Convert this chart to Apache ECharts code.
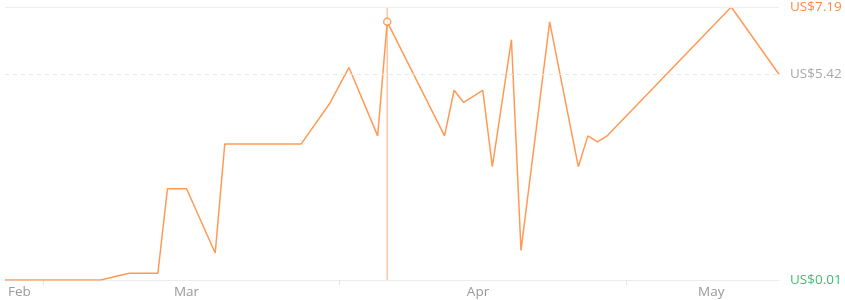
<!DOCTYPE html>
<html><head><meta charset="utf-8">
<script src="https://cdn.jsdelivr.net/npm/echarts@6/dist/echarts.min.js"></script>
<style>html,body{margin:0;padding:0;background:#fff}#c{width:845px;height:300px}</style>
</head><body><div id="c"></div>
<script>
const dates = ['2023-02-25','2023-03-07','2023-03-10','2023-03-13','2023-03-14','2023-03-16','2023-03-19','2023-03-20','2023-03-28','2023-03-31','2023-04-02','2023-04-05','2023-04-06','2023-04-12','2023-04-13','2023-04-14','2023-04-16','2023-04-17','2023-04-19','2023-04-20','2023-04-23','2023-04-26','2023-04-27','2023-04-28','2023-04-29','2023-05-12','2023-05-17'];
const prices = [0.01,0.01,0.19,0.19,2.41,2.41,0.72,3.59,3.59,4.66,5.60,3.80,6.80,3.80,5.00,4.68,5.00,2.99,6.33,0.79,6.80,2.99,3.80,3.64,3.80,7.19,5.42];
const monthTicks = ['2023-03-01','2023-04-01','2023-05-01'];
const monthLabels = ['Feb','Mar','Apr','May'];
const monthLabelAt = ['2023-02-26T12:00','2023-03-16T00:00','2023-04-15T12:00','2023-05-09T22:00'];
const hoverDate = '2023-04-06';

function t(s){ if(s.indexOf('T')>0) return new Date(s).getTime(); const p=s.split('-').map(Number); return new Date(p[0],p[1]-1,p[2]).getTime(); }

const minV = Math.min(...prices), maxV = Math.max(...prices), lastV = prices[prices.length-1];
const hoverIdx = dates.indexOf(hoverDate);
const ORANGE = '#ff9a55';
const labelTs = monthLabelAt.map(t);
const FONT = '"Open Sans", sans-serif';

const chart = echarts.init(document.getElementById('c'), null, {renderer:'canvas'});
chart.setOption({
  animation:false,
  grid:{left:5,right:66,top:5,bottom:20,containLabel:false},
  xAxis:{
    type:'value',
    min:t(dates[0]), max:t(dates[dates.length-1]),
    axisLine:{show:true,lineStyle:{color:'#ececec',width:1}},
    axisTick:{show:true,customValues:monthTicks.map(t),length:5,lineStyle:{color:'#e4e4e4'}},
    splitLine:{show:false},
    axisLabel:{
      customValues:labelTs,
      formatter:function(v){ const i=labelTs.indexOf(v); return i>=0?monthLabels[i]:''; },
      color:'#999999', fontSize:13.5, fontFamily:FONT, margin:5, hideOverlap:false
    }
  },
  yAxis:{
    type:'value', position:'right', min:minV, max:maxV,
    axisLine:{show:false}, axisTick:{show:false}, splitLine:{show:false},
    axisLabel:{
      customValues:[minV,lastV,maxV],
      margin:11,
      fontSize:13.5, fontFamily:FONT,
      formatter:function(v){
        const s='US$'+v.toFixed(2);
        if(v===maxV) return '{mx|'+s+'}';
        if(v===minV) return '{mn|'+s+'}';
        return '{cu|'+s+'}';
      },
      rich:{
        mx:{color:'#ff8a3d',fontSize:13.5,fontFamily:FONT},
        mn:{color:'#3dbd72',fontSize:13.5,fontFamily:FONT},
        cu:{color:'#a8a8a8',fontSize:13.5,fontFamily:FONT}
      }
    }
  },
  series:[
    {
      type:'line',
      data:[[t(hoverDate),minV],[t(hoverDate),maxV]],
      showSymbol:false, symbol:'none', silent:true,
      lineStyle:{color:'#ffc7a0',width:1.5},
      z:2
    },
    {
      type:'line',
      data:dates.map((d,i)=>[t(d),prices[i]]),
      showSymbol:false, symbol:'none',
      lineStyle:{color:ORANGE,width:1.5},
      z:3,
      markLine:{
        silent:true, symbol:'none', label:{show:false},
        emphasis:{disabled:true},
        data:[
          {yAxis:maxV, lineStyle:{color:'#eeeeee',type:'solid',width:1}},
          {yAxis:lastV, lineStyle:{color:'#e8e8e8',type:[4,4],width:1}}
        ]
      }
    },
    {
      type:'scatter',
      data:[[t(dates[hoverIdx]),prices[hoverIdx]]],
      symbol:'circle', symbolSize:7,
      itemStyle:{color:'#fff',borderColor:'#ff8a3d',borderWidth:1.5},
      z:5, silent:true
    }
  ]
});
</script></body></html>
